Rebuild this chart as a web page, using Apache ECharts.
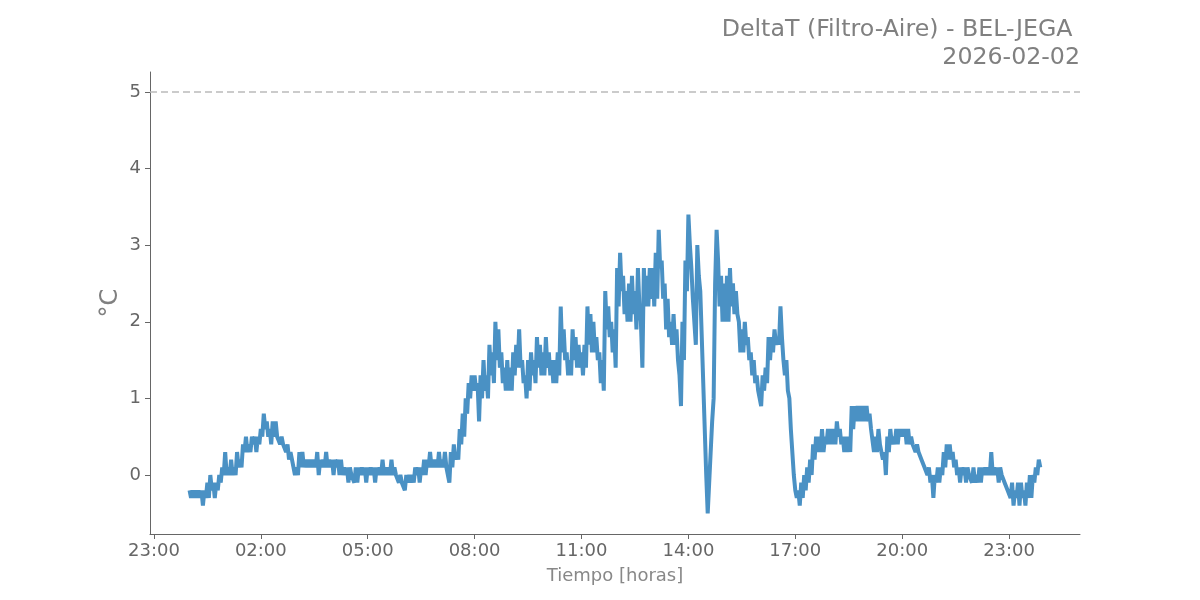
<!DOCTYPE html>
<html>
<head>
<meta charset="utf-8">
<script src="https://cdn.jsdelivr.net/npm/echarts@6/dist/echarts.min.js"></script>
<style>html,body{margin:0;padding:0;background:#fff}#c{width:1200px;height:600px}</style>
</head>
<body>
<div id="c"></div>
<script>
// Values, two readings (upper/lower of the jitter band) per 5-minute slot
const h00 = [-0.2,-0.3,-0.2,-0.3,-0.2,-0.3,-0.2,-0.3,-0.2,-0.4,-0.2,-0.3,-0.1,-0.3,0.0,-0.2,-0.1,-0.3,-0.1,-0.2,0.0,-0.1,0.1,0.0];
const h01 = [0.3,0.0,0.1,0.0,0.2,0.0,0.1,0.0,0.3,0.1,0.2,0.1,0.4,0.3,0.5,0.3,0.4,0.3,0.5,0.4,0.5,0.3,0.5,0.4];
const h02 = [0.6,0.5,0.8,0.6,0.7,0.5,0.6,0.4,0.7,0.5,0.7,0.5,0.5,0.4,0.5,0.4,0.4,0.3,0.4,0.2,0.3,0.2,0.2,0.0];
const h03 = [0.1,0.0,0.3,0.1,0.3,0.1,0.2,0.1,0.2,0.1,0.2,0.1,0.2,0.1,0.3,0.0,0.2,0.1,0.2,0.1,0.3,0.1,0.2,0.1];
const h04 = [0.2,0.0,0.2,0.1,0.2,0.0,0.2,0.0,0.1,0.0,0.1,-0.1,0.1,0.0,0.0,-0.1,0.1,-0.1,0.1,0.0,0.1,0.0,0.1,-0.1];
const h05 = [0.1,0.0,0.1,0.0,0.1,-0.1,0.1,0.0,0.1,0.0,0.2,0.0,0.1,0.0,0.1,0.0,0.2,0.0,0.1,0.0,0.0,-0.1,0.0,-0.1];
const h06 = [-0.1,-0.2,0.0,-0.1,0.0,-0.1,0.0,-0.1,0.1,0.0,0.1,-0.1,0.1,0.0,0.2,0.0,0.2,0.1,0.3,0.1,0.2,0.1,0.2,0.1];
const h07 = [0.3,0.1,0.2,0.1,0.3,0.1,0.0,-0.1,0.3,0.1,0.4,0.2,0.3,0.2,0.6,0.4,0.8,0.5,1.0,0.8,1.2,1.0,1.3,1.1];
const h08 = [1.3,1.1,1.2,0.7,1.3,1.0,1.5,1.1,1.3,1.0,1.7,1.3,1.6,1.2,2.0,1.5,1.9,1.4,1.6,1.2,1.4,1.1,1.5,1.1];
const h09 = [1.4,1.1,1.6,1.3,1.7,1.4,1.9,1.4,1.5,1.2,1.3,1.0,1.5,1.1,1.6,1.3,1.5,1.2,1.8,1.4,1.7,1.3,1.6,1.3];
const h10 = [1.8,1.4,1.6,1.3,1.5,1.2,1.5,1.2,1.6,1.3,2.2,1.6,1.9,1.5,1.6,1.3,1.5,1.3,1.9,1.5,1.8,1.4,1.7,1.4];
const h11 = [1.6,1.3,1.7,1.4,2.2,1.7,2.1,1.6,2.0,1.6,1.8,1.5,1.6,1.2,1.5,1.1,2.4,1.9,2.2,1.8,2.0,1.6,1.9,1.4];
const h12 = [2.7,2.2,2.9,2.4,2.6,2.1,2.4,2.0,2.5,2.0,2.6,2.1,2.4,1.9,2.7,2.2,2.0,1.4,2.7,2.2,2.6,2.2,2.7,2.3];
const h13 = [2.7,2.2,2.9,2.3,3.2,2.7,2.8,2.3,2.5,1.9,2.3,1.8,2.0,1.7,2.1,1.7,1.9,1.5,1.3,0.9,2.0,1.5,2.8,2.4];
const h14 = [3.4,3.0,2.7,2.3,2.3,1.7,3.0,2.6,2.4,1.8,1.2,0.6,0.0,-0.5,-0.5,0.3,0.7,1.0,2.5,3.2,2.8,2.2,2.6,2.0];
const h15 = [2.5,2.0,2.6,2.0,2.7,2.2,2.5,2.1,2.4,2.1,2.0,1.6,1.9,1.6,2.0,1.7,1.8,1.5,1.6,1.3,1.5,1.2,1.3,1.1];
const h16 = [1.1,0.9,1.3,1.1,1.4,1.2,1.8,1.5,1.8,1.6,1.9,1.7,1.8,1.7,2.2,1.8,1.5,1.3,1.5,1.1,1.0,0.6,0.3,0.0];
const h17 = [-0.2,-0.3,-0.2,-0.4,-0.1,-0.3,0.0,-0.2,0.1,-0.1,0.2,0.0,0.4,0.2,0.5,0.3,0.5,0.3,0.6,0.3,0.5,0.4,0.6,0.4];
const h18 = [0.6,0.4,0.6,0.4,0.7,0.5,0.6,0.4,0.5,0.3,0.5,0.3,0.5,0.3,0.9,0.6,0.9,0.7,0.9,0.7,0.9,0.7,0.9,0.7];
const h19 = [0.9,0.7,0.8,0.6,0.6,0.3,0.5,0.3,0.6,0.4,0.4,0.2,0.3,0.0,0.5,0.3,0.6,0.4,0.5,0.4,0.6,0.4,0.6,0.5];
const h20 = [0.6,0.5,0.6,0.4,0.6,0.4,0.5,0.4,0.4,0.3,0.4,0.3,0.3,0.2,0.2,0.1,0.1,0.0,0.1,-0.1,0.0,-0.3,0.0,-0.1];
const h21 = [0.1,-0.1,0.1,0.0,0.3,0.1,0.4,0.2,0.4,0.2,0.3,0.1,0.2,0.0,0.1,-0.1,0.1,0.0,0.1,-0.1,0.1,0.0,0.0,-0.1];
const h22 = [0.1,-0.1,0.0,-0.1,0.1,-0.1,0.1,0.0,0.1,0.0,0.1,0.0,0.3,0.0,0.1,0.0,0.1,-0.1,0.1,0.0,0.0,-0.1,-0.1,-0.2];
const h23 = [-0.2,-0.3,-0.1,-0.4,-0.2,-0.3,-0.1,-0.4,-0.1,-0.3,-0.2,-0.4,-0.1,-0.3,0.0,-0.3,0.0,-0.1,0.1,0.0,0.2,0.1];

const deltaT = [].concat(h00,h01,h02,h03,h04,h05,h06,h07,h08,h09,h10,h11,h12,h13,h14,h15,h16,h17,h18,h19,h20,h21,h22,h23);
const stepMinutes = 2.5;          // sampling step of the readings
const xTickHours = [-1, 2, 5, 8, 11, 14, 17, 20, 23];   // 23:00 (previous day) ... 23:00
const yTickValues = [0, 1, 2, 3, 4, 5];
const thresholdValue = 5;
const titleLine1 = 'DeltaT (Filtro-Aire) - BEL-JEGA ';
const titleLine2 = '2026-02-02';

const seriesData = deltaT.map((v, i) => [i * stepMinutes / 60, v]);

const chart = echarts.init(document.getElementById('c'), null, {renderer: 'canvas'});
const font = 'DejaVu Sans';
chart.setOption({
  animation: false,
  backgroundColor: '#ffffff',
  title: [
    {text: titleLine1, right: 115, top: 13, textStyle: {fontFamily: font, fontSize: 23.7, fontWeight: 'normal', color: '#808080'}},
    {text: titleLine2, right: 115, top: 41, textStyle: {fontFamily: font, fontSize: 23.7, fontWeight: 'normal', color: '#808080'}}
  ],
  grid: {left: 150, right: 120, top: 72, bottom: 66, containLabel: false},
  xAxis: {
    type: 'value',
    min: -1.11, max: 24.99,
    name: 'Tiempo [horas]', nameLocation: 'middle', nameGap: 33, nameMoveOverlap: false,
    nameTextStyle: {fontFamily: font, fontSize: 18, color: '#888888'},
    axisLine: {show: true, onZero: false, lineStyle: {color: '#666666', width: 1}},
    axisTick: {show: true, length: 5, lineStyle: {color: '#666666'}, customValues: xTickHours},
    axisLabel: {
      customValues: xTickHours, margin: 8,
      fontFamily: font, fontSize: 18, color: '#666666',
      formatter: v => { const h = ((Math.round(v) % 24) + 24) % 24; return String(h).padStart(2, '0') + ':00'; }
    },
    splitLine: {show: false}
  },
  yAxis: {
    type: 'value',
    min: -0.77, max: 5.26,
    name: '°C', nameLocation: 'middle', nameGap: 27, nameRotate: 90, nameMoveOverlap: false,
    nameTextStyle: {fontFamily: font, fontSize: 24, color: '#808080'},
    axisLine: {show: true, onZero: false, lineStyle: {color: '#666666', width: 1}},
    axisTick: {show: true, length: 5, lineStyle: {color: '#666666'}, customValues: yTickValues},
    axisLabel: {customValues: yTickValues, margin: 9, fontFamily: font, fontSize: 18, color: '#666666'},
    splitLine: {show: false}
  },
  series: [{
    type: 'line',
    data: seriesData,
    showSymbol: false,
    symbol: 'none',
    lineStyle: {color: '#4a91c4', width: 4},
    itemStyle: {color: '#4a91c4'},
    markLine: {
      silent: true, symbol: 'none', label: {show: false},
      lineStyle: {color: '#bbbbbb', type: [7, 4], width: 1.5},
      data: [{yAxis: thresholdValue}]
    }
  }]
});
</script>
</body>
</html>
